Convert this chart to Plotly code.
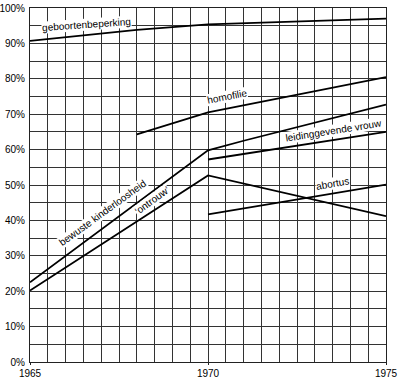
import plotly.graph_objects as go

# Data
years_geboorte = [1965, 1968, 1970, 1975]
geboortenbeperking = [90.7, 93.8, 95.4, 97.0]

years_kinderloos = [1965, 1970, 1971, 1975]
kinderloosheid = [22.5, 59.8, 62.5, 72.7]

years_ontrouw = [1965, 1970, 1975]
ontrouw = [20.2, 52.7, 41.2]

years_homofilie = [1968, 1970, 1975]
homofilie = [64.3, 70.5, 80.5]

years_leiding = [1970, 1975]
leidinggevende = [57.2, 65.0]

years_abortus = [1970, 1975]
abortus = [41.7, 50.1]

x_ticks = [1965, 1970, 1975]
y_ticks = list(range(0, 101, 10))
y_ticklabels = [f"{v}%" for v in y_ticks]

# Labels: (text, x, y, angle, xshift, yshift)
labels = [
    ("geboortenbeperking", 1966.6, 94.2, -4, 0, 4),
    ("homofilie", 1970.56, 73.7, -11, -1, 5),
    ("leidinggevende vrouw", 1973.54, 64.3, -9, 0, 4),
    ("abortus", 1973.51, 49.3, -10, 0, 4),
    ("bewuste kinderloosheid", 1967.16, 40.9, -36, -4, 5),
    ("‘ontrouw’", 1968.54, 44.3, -36, -4, 5),
]

FONT = "Liberation Sans, Arial, Helvetica, sans-serif"

fig = go.Figure()
series = [
    (years_geboorte, geboortenbeperking),
    (years_kinderloos, kinderloosheid),
    (years_ontrouw, ontrouw),
    (years_homofilie, homofilie),
    (years_leiding, leidinggevende),
    (years_abortus, abortus),
]

for text, x, y, ang, dx, dy in labels:
    fig.add_annotation(x=x, y=y, xref="x", yref="y", text=text, showarrow=False,
                       textangle=ang, xshift=dx, yshift=dy, bgcolor="white", borderpad=0,
                       font=dict(family=FONT, size=10, color="black"))

for xs, ys in series:
    fig.add_trace(go.Scatter(x=xs, y=ys, mode="lines",
                             line=dict(color="black", width=1.8, shape="linear"),
                             showlegend=False, hoverinfo="skip"))

fig.update_xaxes(range=[1965, 1975], tickvals=x_ticks, ticktext=[str(v) for v in x_ticks],
                 automargin=False,
                 showgrid=True, gridcolor="#333", gridwidth=1,
                 minor=dict(dtick=0.5, tick0=1965, showgrid=True, gridcolor="#333", gridwidth=1),
                 showline=True, linecolor="#222", linewidth=1, mirror=True,
                 ticks="outside", ticklen=2, tickcolor="#222",
                 tickfont=dict(family=FONT, size=10, color="black"), zeroline=False)
fig.update_yaxes(range=[0, 100], tickvals=y_ticks, ticktext=y_ticklabels,
                 automargin=False,
                 showgrid=True, gridcolor="#333", gridwidth=1,
                 minor=dict(dtick=5, tick0=0, showgrid=True, gridcolor="#333", gridwidth=1),
                 showline=True, linecolor="#222", linewidth=1, mirror=True,
                 ticks="", tickfont=dict(family=FONT, size=10, color="black"),
                 ticklabelstandoff=2, zeroline=False)

fig.update_layout(width=400, height=384,
                  margin=dict(l=30, r=14, t=8, b=22),
                  plot_bgcolor="white", paper_bgcolor="white",
                  font=dict(family=FONT, size=10, color="black"))

fig.write_html("out.html", config={"displayModeBar": False},
               post_script="document.body.style.margin='0';document.body.style.padding='0';")
